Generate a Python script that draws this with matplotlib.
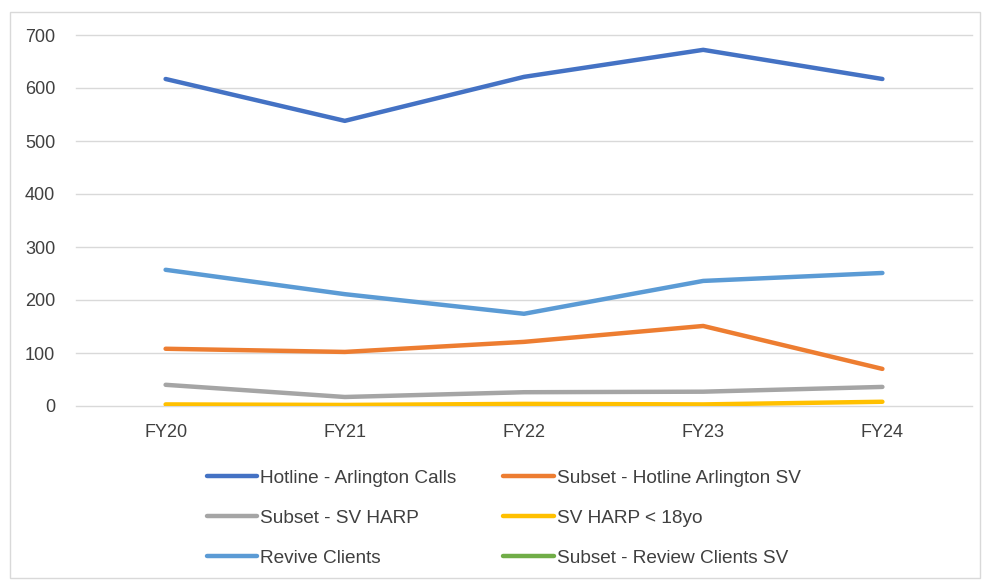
import matplotlib.pyplot as plt
import numpy as np
from matplotlib.patches import Rectangle

plt.rcParams['font.family'] = ['Liberation Sans', 'DejaVu Sans']

years = ['FY20', 'FY21', 'FY22', 'FY23', 'FY24']
hotline_calls = [617, 538, 621, 672, 617]
hotline_sv = [108, 102, 121, 151, 70]
harp_sv = [40, 17, 26, 27, 36]
harp_under18 = [3, 2, 4, 3, 8]
revive_clients = [257, 211, 174, 236, 251]
review_clients_sv = [np.nan, np.nan, np.nan, np.nan, np.nan]  # not visible in chart

series = [
    ('Hotline - Arlington Calls', hotline_calls, '#4472C4'),
    ('Subset - Hotline Arlington SV', hotline_sv, '#ED7D31'),
    ('Subset - SV HARP', harp_sv, '#A5A5A5'),
    ('SV HARP < 18yo', harp_under18, '#FFC000'),
    ('Revive Clients', revive_clients, '#5B9BD5'),
    ('Subset - Review Clients SV', review_clients_sv, '#70AD47'),
]

fig = plt.figure(figsize=(9.84, 5.83), dpi=100)
fig.patches.append(Rectangle((10 / 984, 5 / 583), 970 / 984, 566 / 583,
                             transform=fig.transFigure, fill=False,
                             edgecolor='#D9D9D9', linewidth=1))

ax = fig.add_axes([76 / 984, 1 - 406 / 583, 896 / 984, 371 / 583])
x = np.arange(len(years))
lines = []
for label, vals, color in series:
    ln, = ax.plot(x, vals, color=color, linewidth=3.2, label=label,
                  solid_capstyle='round')
    lines.append(ln)

ax.set_xlim(-0.5, len(years) - 0.5)
ax.set_ylim(0, 700)
ax.set_yticks(range(0, 701, 100))
ax.set_xticks(x, years)
ax.yaxis.grid(True, color='#D9D9D9', linewidth=1)
for gl in ax.get_ygridlines():
    gl.set_clip_on(False)
ax.set_axisbelow(True)
for s in ax.spines.values():
    s.set_visible(False)
ax.tick_params(length=0, labelsize=13, colors='#404040')
ax.tick_params(axis='y', pad=15)
ax.tick_params(axis='x', pad=13)

# legend fills row by row in the reference; matplotlib fills by column
order = [0, 2, 4, 1, 3, 5]
fig.legend([lines[i] for i in order], [series[i][0] for i in order],
           loc='center', bbox_to_anchor=(0.512, 0.111), ncol=2,
           frameon=False, fontsize=13.7, handlelength=2.63, handletextpad=0.16,
           labelspacing=1.2, columnspacing=2.47, labelcolor='#404040')

fig.savefig('out.png', dpi=100)
